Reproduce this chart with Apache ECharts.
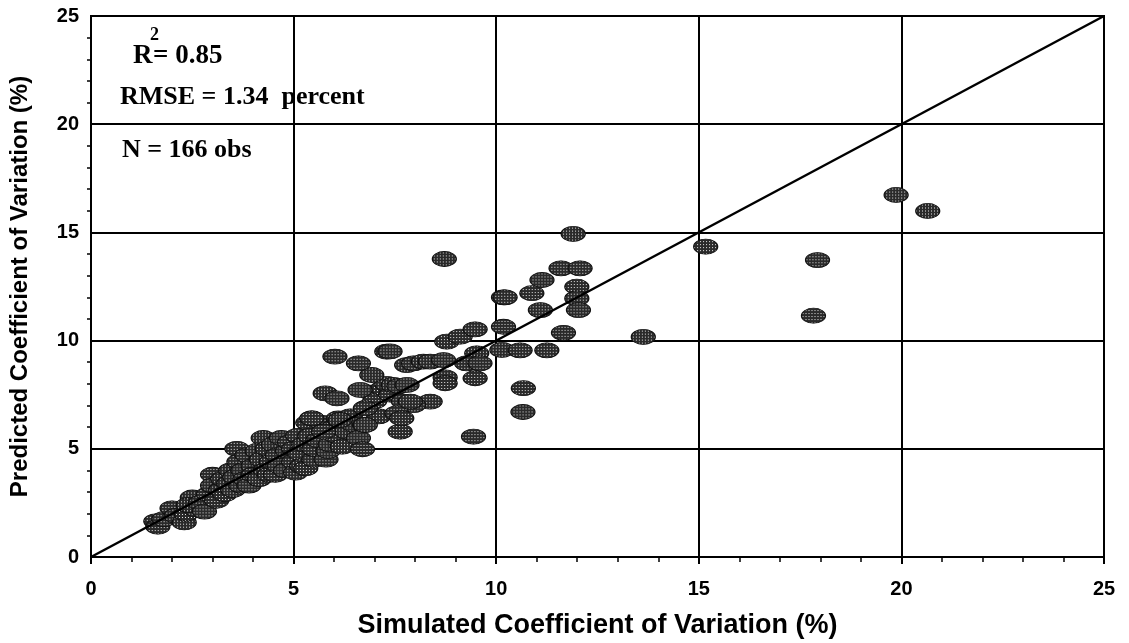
<!DOCTYPE html>
<html>
<head>
<meta charset="utf-8">
<script src="https://cdn.jsdelivr.net/npm/echarts@6/dist/echarts.min.js"></script>
<style>
html,body{margin:0;padding:0;background:#fff;}
#chart{width:1129px;height:643px;}
</style>
</head>
<body>
<div id="chart"></div>
<script>
const simulatedCV = [
  1.60,1.65,1.80,2.00,2.10,2.30,2.35,2.50,2.60,2.40,
  2.70,2.80,2.90,3.00,3.00,3.10,3.20,3.25,3.30,3.40,3.45,3.50,3.55,
  3.60,3.65,3.70,3.75,3.80,3.85,3.90,4.00,4.00,4.10,4.15,4.20,4.25,4.30,4.35,4.40,4.45,4.50,
  4.55,4.60,4.65,4.70,4.80,4.85,4.90,5.00,5.00,5.05,5.10,5.15,5.20,5.25,5.30,5.35,5.40,5.45,5.50,5.50,
  5.60,5.70,5.75,5.80,5.85,5.90,6.00,6.05,6.10,6.15,6.20,6.30,6.40,6.50,6.60,
  6.70,6.75,6.80,6.90,7.00,7.10,7.20,7.30,7.40,
  5.45,5.74,5.78,6.07,6.15,6.64,6.77,6.77,6.93,6.60,6.02,7.30,7.46,7.60,7.80,
  7.38,7.79,7.96,8.20,8.37,8.70,8.78,9.11,9.48,9.52,9.27,9.60,8.74,8.74,9.48,
  7.71,8.37,7.96,7.55,7.63,7.67,7.88,
  9.44,10.14,10.59,11.25,10.67,10.66,10.18,10.18,11.66,
  10.22,10.88,11.13,11.60,12.07,11.99,11.99,12.03,11.09,
  8.72,11.90,13.63,15.17,17.93,17.83,19.87,20.65
];
const predictedCV = [
  1.65,1.40,1.75,2.25,1.90,1.60,2.00,2.75,2.20,2.40,
  2.50,2.10,2.90,3.80,3.30,2.60,3.10,3.60,2.90,3.40,4.00,3.10,3.70,
  5.00,4.40,3.30,4.00,3.60,4.70,3.30,4.20,3.80,4.90,3.60,4.50,5.50,4.00,5.00,3.80,4.40,5.20,
  3.80,4.70,4.20,5.50,4.00,4.90,5.30,4.40,5.00,3.90,5.60,4.80,4.20,5.20,4.10,6.20,5.60,6.40,4.50,5.00,
  5.40,6.20,5.80,4.50,4.90,5.20,6.00,5.60,6.40,6.30,5.10,5.80,6.50,6.10,5.50,
  4.98,6.10,6.90,7.60,7.20,6.50,7.80,8.00,7.50,
  6.41,5.79,7.56,7.33,6.33,7.72,6.87,6.10,8.41,8.95,9.26,9.49,7.95,7.90,7.95,
  9.50,8.87,8.95,9.03,9.03,9.10,9.95,10.18,10.52,9.41,8.95,8.95,8.30,8.03,8.26,
  7.18,7.18,7.02,6.64,5.79,6.41,7.18,
  5.56,9.57,9.55,9.55,7.80,6.70,10.64,12.00,10.36,
  12.00,12.19,12.80,13.34,13.34,12.49,11.95,11.41,11.41,
  13.77,14.93,10.17,14.34,13.72,11.15,16.73,15.99
];
// 1:1 reference line
const lineX = [0, 25];
const lineY = [0, 25];
// axis tick values
const xTicks = [0, 5, 10, 15, 20, 25];
const yTicks = [0, 5, 10, 15, 20, 25];

const points = simulatedCV.map((x, i) => [x, predictedCV[i]]);
const linePts = lineX.map((x, i) => [x, lineY[i]]);

const MARK_W = 24, MARK_H = 15;
function makePattern() {
  const c = document.createElement('canvas');
  c.width = 3; c.height = 3;
  const g = c.getContext('2d');
  g.fillStyle = '#2a2a2a';
  g.fillRect(0, 0, 3, 3);
  g.fillStyle = '#e6e6e6';
  g.fillRect(1, 1, 1, 1);
  return c;
}

const chart = echarts.init(document.getElementById('chart'), null, {renderer: 'canvas'});
const tickFont = {fontFamily: 'Liberation Sans', fontWeight: 'bold', fontSize: 20, color: '#000'};
const axisCommon = {
  type: 'value', min: 0, max: 25, interval: 5,
  axisLine: {show: true, lineStyle: {color: '#000', width: 2}},
  axisTick: {show: true, inside: false, length: 7, lineStyle: {color: '#000', width: 2}},
  minorTick: {show: true, splitNumber: 5, length: 5, lineStyle: {color: '#000', width: 1.5}},
  splitLine: {show: true, lineStyle: {color: '#000', width: 2}},
  minorSplitLine: {show: false},
  axisLabel: Object.assign({margin: 22, formatter: v => (xTicks.indexOf(v) >= 0 ? String(v) : '')}, tickFont),
  nameLocation: 'middle',
  nameTextStyle: {fontFamily: 'Liberation Sans', fontWeight: 'bold', fontSize: 27, color: '#000'}
};

chart.setOption({
  backgroundColor: '#fff',
  animation: false,
  grid: {left: 91, right: 25, top: 16, bottom: 86, show: true, borderColor: '#000', borderWidth: 2,
         containLabel: false, outerBoundsMode: 'none'},
  xAxis: Object.assign({}, axisCommon, {name: 'Simulated Coefficient of Variation (%)', nameGap: 55}),
  yAxis: Object.assign({}, axisCommon, {
    name: 'Predicted Coefficient of Variation (%)', nameGap: 59,
    nameTextStyle: {fontFamily: 'Liberation Sans', fontWeight: 'bold', fontSize: 24, color: '#000'},
    axisLabel: Object.assign({}, axisCommon.axisLabel, {margin: 12, formatter: v => (yTicks.indexOf(v) >= 0 ? String(v) : '')}),
    axisTick: {show: false},
    minorTick: {show: true, splitNumber: 5, length: 4, lineStyle: {color: '#000', width: 1.5}}
  }),
  series: [
    {
      type: 'scatter',
      data: points,
      symbol: 'circle',
      symbolSize: [MARK_W, MARK_H],
      itemStyle: {
        color: {image: makePattern(), repeat: 'repeat', scaleX: 1 / MARK_W, scaleY: 1 / MARK_H},
        borderColor: '#111', borderWidth: 1, opacity: 1
      },
      z: 2
    },
    {
      type: 'line',
      data: linePts,
      symbol: 'none',
      lineStyle: {color: '#000', width: 2.5},
      z: 3
    }
  ],
  graphic: [
    {type: 'text', x: 133, y: 56, style: {text: 'R', font: 'bold 27px "Liberation Serif"', fill: '#000', verticalAlign: 'middle'}},
    {type: 'text', x: 150, y: 35, style: {text: '2', font: 'bold 18px "Liberation Serif"', fill: '#000', verticalAlign: 'middle'}},
    {type: 'text', x: 153, y: 56, style: {text: '= 0.85', font: 'bold 27px "Liberation Serif"', fill: '#000', verticalAlign: 'middle'}},
    {type: 'text', x: 120, y: 97, style: {text: 'RMSE = 1.34  percent', font: 'bold 26px "Liberation Serif"', fill: '#000', verticalAlign: 'middle'}},
    {type: 'text', x: 122, y: 150, style: {text: 'N = 166 obs', font: 'bold 26px "Liberation Serif"', fill: '#000', verticalAlign: 'middle'}}
  ]
});
</script>
</body>
</html>
